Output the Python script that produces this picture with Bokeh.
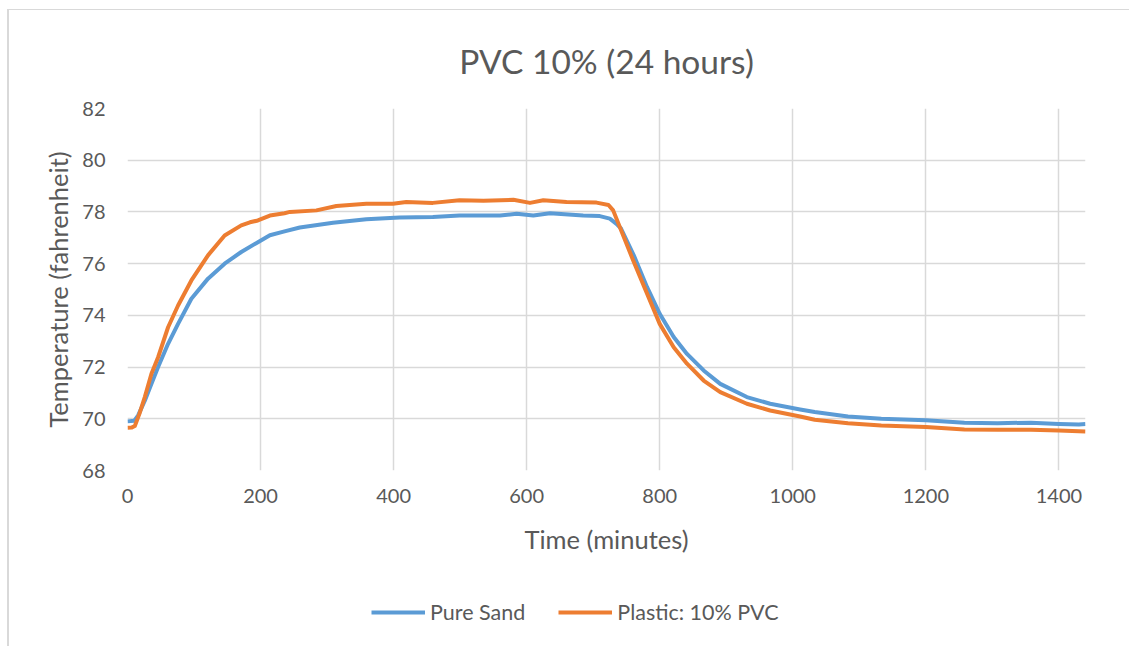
from bokeh.plotting import figure
from bokeh.layouts import column
from bokeh.models import Legend, LegendItem, FixedTicker, Range1d
from bokeh.embed import file_html
from bokeh.resources import INLINE

# Data
time_sand = [0, 10, 16, 26, 36, 46, 61, 76, 96, 121, 146, 171, 196, 214, 236, 259, 309, 359, 409,
             459, 499, 560, 585, 610, 635, 685, 710, 725, 735, 742, 761, 781, 800, 821, 841, 866,
             891, 931, 966, 1011, 1033, 1083, 1133, 1200, 1258, 1308, 1358, 1400, 1430, 1440]
temp_sand = [69.90, 69.92, 70.13, 70.70, 71.35, 72.00, 72.90, 73.67, 74.64, 75.42, 76.00, 76.45,
             76.83, 77.10, 77.25, 77.40, 77.58, 77.72, 77.78, 77.80, 77.86, 77.86, 77.93, 77.86,
             77.95, 77.86, 77.84, 77.74, 77.54, 77.35, 76.32, 75.09, 74.06, 73.16, 72.51, 71.87,
             71.35, 70.84, 70.58, 70.36, 70.26, 70.09, 70.00, 69.94, 69.85, 69.83, 69.85, 69.80,
             69.78, 69.80]

time_pvc = [0, 6, 11, 18, 26, 36, 46, 61, 76, 96, 121, 146, 171, 184, 196, 214, 236, 244, 284,
            314, 359, 399, 419, 459, 499, 535, 580, 605, 625, 660, 705, 723, 730, 740, 760, 781,
            800, 821, 841, 866, 891, 931, 966, 1011, 1033, 1083, 1133, 1200, 1258, 1308, 1358,
            1400, 1440]
temp_pvc = [69.65, 69.66, 69.72, 70.20, 70.84, 71.74, 72.38, 73.54, 74.38, 75.35, 76.32, 77.09,
            77.48, 77.60, 77.67, 77.86, 77.95, 78.00, 78.06, 78.23, 78.32, 78.32, 78.38, 78.35,
            78.45, 78.43, 78.47, 78.35, 78.45, 78.38, 78.36, 78.27, 78.06, 77.42, 76.13, 74.84,
            73.67, 72.77, 72.13, 71.48, 71.03, 70.58, 70.32, 70.09, 69.96, 69.83, 69.74, 69.68,
            69.59, 69.58, 69.58, 69.55, 69.51]

x_ticks = [0, 200, 400, 600, 800, 1000, 1200, 1400]
y_ticks = [68, 70, 72, 74, 76, 78, 80, 82]

series_names = ["Pure Sand", "Plastic: 10% PVC"]
series_colors = ["#5B9BD5", "#ED7D31"]

FONT = "Lato"
TXT = "#595959"
GRID = "#d9d9d9"
LW = 4

p = figure(width=1120, height=560, output_backend="svg", toolbar_location=None,
           x_range=Range1d(0, 1440), y_range=Range1d(68, 82),
           min_border_left=118, min_border_right=44, min_border_top=98, min_border_bottom=100,
           title="PVC 10% (24 hours)")

p.title.align = "center"
p.title.text_font = FONT
p.title.text_font_size = "33.5px"
p.title.text_font_style = "normal"
p.title.text_color = TXT
p.title.standoff = 56

p.outline_line_color = None
p.background_fill_color = "white"
p.border_fill_color = "white"

for ax in (p.xaxis[0], p.yaxis[0]):
    ax.axis_line_color = None
    ax.major_tick_line_color = None
    ax.minor_tick_line_color = None
    ax.major_tick_out = 0
    ax.major_tick_in = 0
    ax.major_label_text_font = FONT
    ax.major_label_text_font_size = "20px"
    ax.major_label_text_color = TXT
    ax.axis_label_text_font = FONT
    ax.axis_label_text_font_size = "25.5px"
    ax.axis_label_text_font_style = "normal"
    ax.axis_label_text_color = TXT

p.xaxis[0].ticker = FixedTicker(ticks=x_ticks)
p.yaxis[0].ticker = FixedTicker(ticks=y_ticks)
p.xaxis[0].axis_label = "Time (minutes)"
p.yaxis[0].axis_label = "Temperature (fahrenheit)"
p.xaxis[0].major_label_standoff = 18
p.xaxis[0].axis_label_standoff = 18
p.yaxis[0].major_label_standoff = 22
p.yaxis[0].axis_label_standoff = 6

p.xgrid.ticker = FixedTicker(ticks=x_ticks)
p.ygrid.ticker = FixedTicker(ticks=y_ticks)
p.xgrid.grid_line_color = GRID
p.ygrid.grid_line_color = GRID
p.xgrid.grid_line_width = 1.5
p.ygrid.grid_line_width = 1.5

p.line(time_sand, temp_sand, line_color=series_colors[0], line_width=LW, line_join="round")
p.line(time_pvc, temp_pvc, line_color=series_colors[1], line_width=LW, line_join="round")

# Legend strip below the chart (same series; their lines fall outside this strip's ranges)
lg = figure(width=1120, height=76, output_backend="svg", toolbar_location=None,
            x_range=Range1d(0, 1), y_range=Range1d(0, 1),
            x_axis_location=None, y_axis_location=None,
            min_border_left=0, min_border_right=0, min_border_top=0, min_border_bottom=0)
lg.grid.visible = False
lg.outline_line_color = None
lg.border_fill_color = "white"
l1 = lg.line(time_sand, temp_sand, line_color=series_colors[0], line_width=LW)
l2 = lg.line(time_pvc, temp_pvc, line_color=series_colors[1], line_width=LW)

legend = Legend(items=[LegendItem(label=series_names[0], renderers=[l1]),
                       LegendItem(label=series_names[1], renderers=[l2])],
                orientation="horizontal", location=(244, 21),
                glyph_width=54, glyph_height=20, label_standoff=5, spacing=33,
                padding=6, margin=0, border_line_color=None, background_fill_alpha=0,
                label_text_font=FONT, label_text_font_size="21.5px", label_text_color=TXT)
lg.add_layout(legend, "center")

layout = column(p, lg, spacing=0,
                styles={"margin-left": "7px", "margin-top": "9px",
                        "border-top": "1px solid #d9d9d9", "border-left": "2px solid #d9d9d9"})

open("out.html", "w").write(file_html(layout, INLINE))
